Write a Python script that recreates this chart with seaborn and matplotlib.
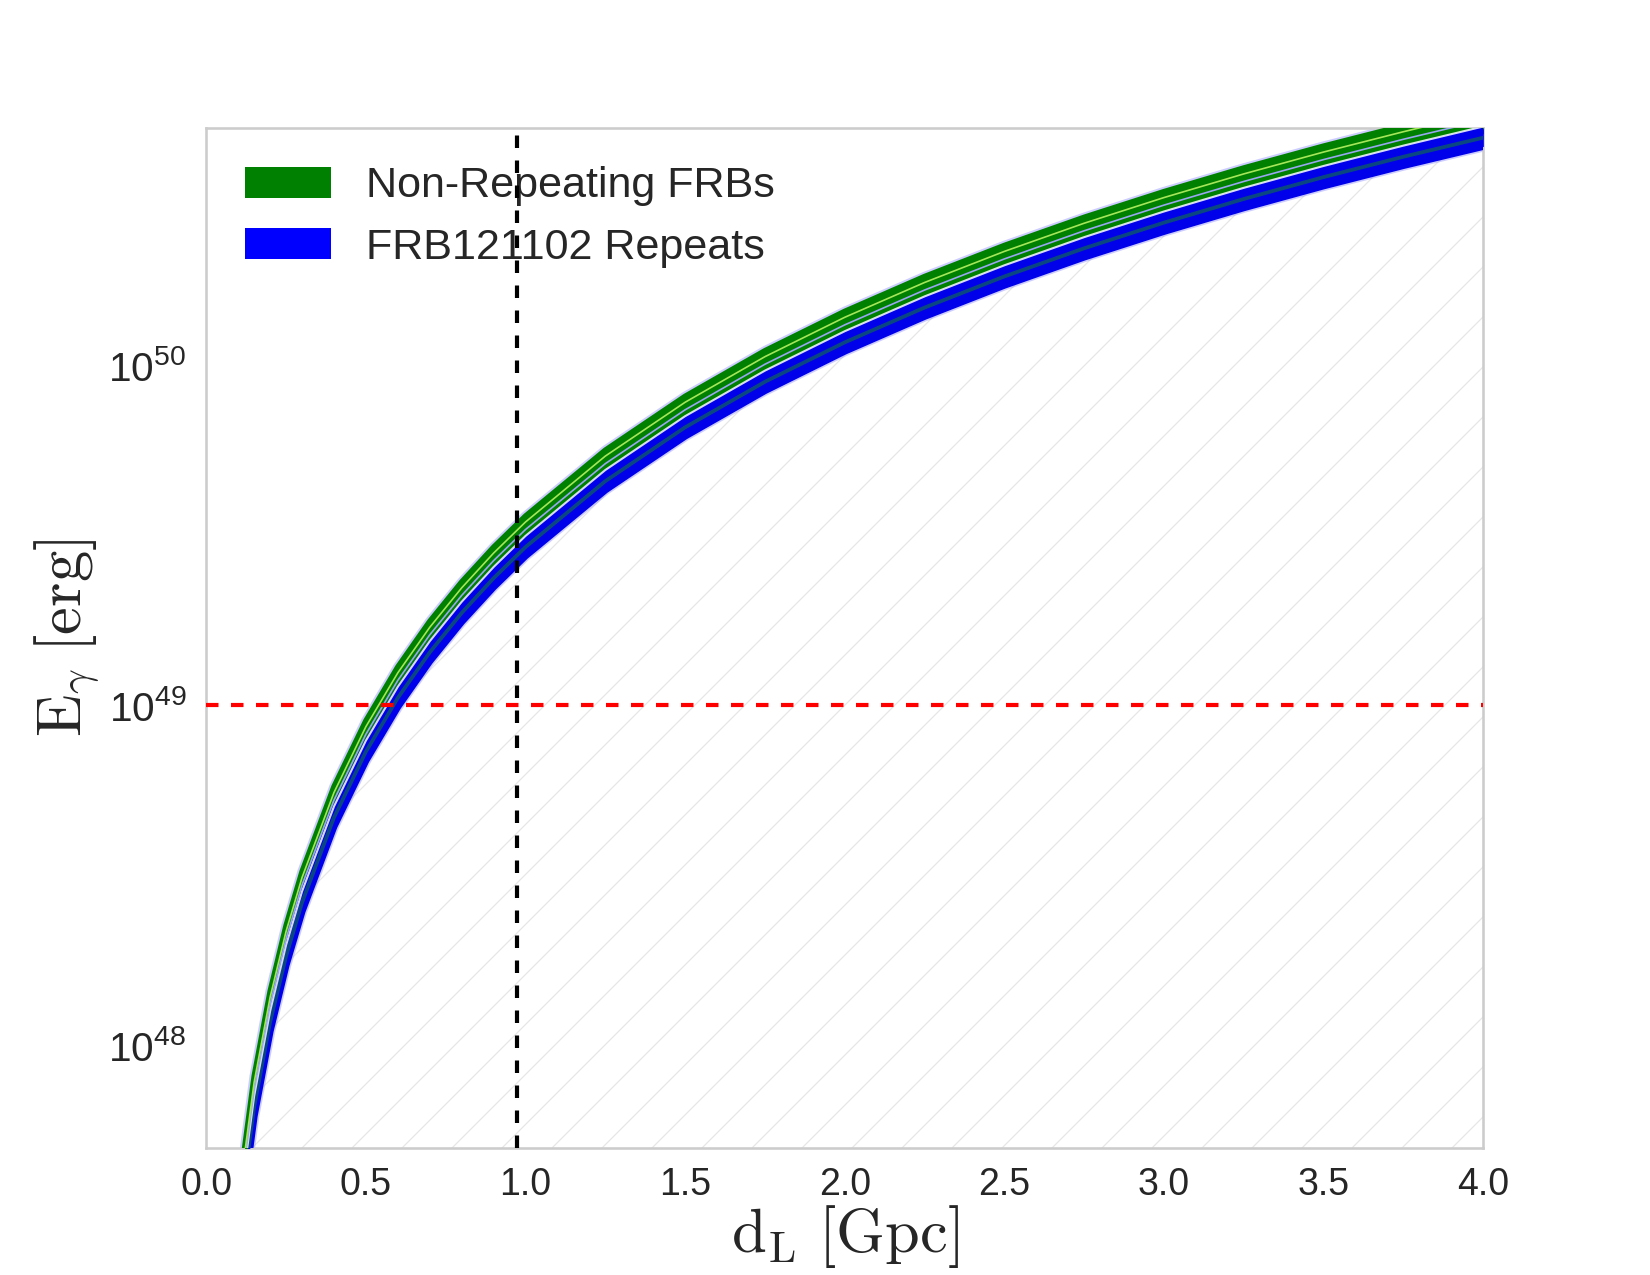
import numpy as np
import matplotlib
matplotlib.use("Agg")
import matplotlib.pyplot as plt
from matplotlib.patches import Patch
import seaborn as sns

# ---- data ----
d_gpc = [0.10, 0.15, 0.20, 0.25, 0.30, 0.40, 0.50, 0.60, 0.70, 0.80, 0.90, 1.00,
         1.25, 1.50, 1.75, 2.00, 2.25, 2.50, 2.75, 3.00, 3.25, 3.50, 3.75, 4.00]

# Non-repeating FRBs (green band), energies in units of 1e49 erg
E_nonrep_low = [0.030, 0.0675, 0.120, 0.1875, 0.270, 0.480, 0.750, 1.080, 1.470, 1.920, 2.430, 3.00,
                4.6875, 6.75, 9.19, 12.0, 15.19, 18.75, 22.69, 27.0, 31.69, 36.75, 42.19, 48.0]
E_nonrep_high = [0.036, 0.081, 0.144, 0.225, 0.324, 0.576, 0.900, 1.296, 1.764, 2.304, 2.916, 3.60,
                 5.625, 8.10, 11.03, 14.4, 18.23, 22.5, 27.23, 32.4, 38.03, 44.1, 50.6, 57.6]

# FRB121102 repeats (blue band), energies in units of 1e49 erg
E_rep_low = [0.0275, 0.0619, 0.110, 0.172, 0.2475, 0.440, 0.6875, 0.990, 1.3475, 1.760, 2.2275, 2.75,
             4.297, 6.1875, 8.42, 11.0, 13.92, 17.19, 20.80, 24.75, 29.05, 33.69, 38.67, 44.0]
E_rep_high = [0.031, 0.0698, 0.124, 0.194, 0.279, 0.496, 0.775, 1.116, 1.519, 1.984, 2.511, 3.10,
              4.844, 6.975, 9.49, 12.4, 15.69, 19.375, 23.44, 27.9, 32.74, 37.98, 43.59, 49.6]

E_unit = 1e49
d_frb121102 = 0.972      # Gpc, vertical marker
E_threshold = 1e49       # erg, horizontal marker
labels = ["Non-Repeating FRBs", "FRB121102 Repeats"]

# ---- style ----
sns.set_theme(style="white")
plt.rcParams["font.family"] = ["Liberation Sans", "DejaVu Sans"]
plt.rcParams["mathtext.fontset"] = "cm"
plt.rcParams["mathtext.default"] = "regular"
plt.rcParams["hatch.linewidth"] = 0.6
plt.rcParams["axes.edgecolor"] = "0.8"

d = np.array(d_gpc)
g_lo = np.array(E_nonrep_low) * E_unit
g_hi = np.array(E_nonrep_high) * E_unit
b_lo = np.array(E_rep_low) * E_unit
b_hi = np.array(E_rep_high) * E_unit

def gmix(a, b, t):
    return a ** (1 - t) * b ** t

fig, ax = plt.subplots(figsize=(11, 8.5), dpi=150)
fig.subplots_adjust(left=0.125, right=0.899, bottom=0.100, top=0.900)

ymin, ymax = 5e47, 5e50

# hatched allowed region below curves
ax.fill_between(d, np.full_like(d, 1e46), b_lo, facecolor="none", edgecolor="0.9",
                hatch="/", linewidth=0, zorder=1)

halo = (0.5, 0.5, 1.0)
# light blue halo around the whole band
ax.fill_between(d, b_lo, g_hi, color=halo, alpha=0.4, linewidth=0, zorder=2)
sns.lineplot(x=d, y=g_hi, color=halo, lw=4.5, alpha=0.4, ax=ax, zorder=2)
sns.lineplot(x=d, y=b_lo, color=halo, lw=5.0, alpha=0.4, ax=ax, zorder=2)

# green band
ax.fill_between(d, g_lo, g_hi, color="green", linewidth=0, zorder=3)
sns.lineplot(x=d, y=g_hi, color="green", lw=2.6, ax=ax, zorder=3)
sns.lineplot(x=d, y=g_lo, color="green", lw=2.0, ax=ax, zorder=3)

# blue band
blue = (0.0, 0.0, 0.92)
ax.fill_between(d, b_lo, b_hi, color=blue, linewidth=0, zorder=4)
sns.lineplot(x=d, y=b_lo, color=blue, lw=3.4, ax=ax, zorder=4)
sns.lineplot(x=d, y=b_hi, color=blue, lw=2.2, ax=ax, zorder=4)

# inner structure lines
sns.lineplot(x=d, y=gmix(b_lo, g_hi, 0.22), color=(0.05, 0.35, 0.4), lw=1.8, alpha=0.8, ax=ax, zorder=5)
sns.lineplot(x=d, y=gmix(b_lo, g_hi, 0.50), color="white", lw=1.0, alpha=0.85, ax=ax, zorder=5)
sns.lineplot(x=d, y=gmix(b_lo, g_hi, 0.66), color=(0.6, 0.65, 0.95), lw=0.8, ax=ax, zorder=5)
sns.lineplot(x=d, y=gmix(b_lo, g_hi, 0.85), color=(0.65, 0.9, 0.35), lw=0.8, ax=ax, zorder=5)

# reference lines
ax.axvline(d_frb121102, color="black", lw=2, linestyle=(0, (3, 3)), zorder=6)
ax.axhline(E_threshold, color="red", lw=2, linestyle=(0, (3, 3)), zorder=6)

ax.set_yscale("log")
ax.set_xlim(0.0, 4.0)
ax.set_ylim(ymin, ymax)
ax.set_xticks(np.arange(0, 4.01, 0.5))
ax.tick_params(axis="x", labelsize=18)
ax.tick_params(axis="y", labelsize=19.5)
ax.grid(False)

ax.set_xlabel(r"$\mathrm{d_L\ [Gpc]}$", fontsize=30, labelpad=0)
ax.set_ylabel(r"$\mathrm{E}_{\mathit{\gamma}}\ \mathrm{[erg]}$", fontsize=30, labelpad=3)

handles = [Patch(facecolor="green", edgecolor="none"),
           Patch(facecolor="blue", edgecolor="none")]
ax.legend(handles, labels, loc="upper left", fontsize=20.7, frameon=False,
          handlelength=2.0, handleheight=0.73)

fig.savefig("out.png", dpi=150)
